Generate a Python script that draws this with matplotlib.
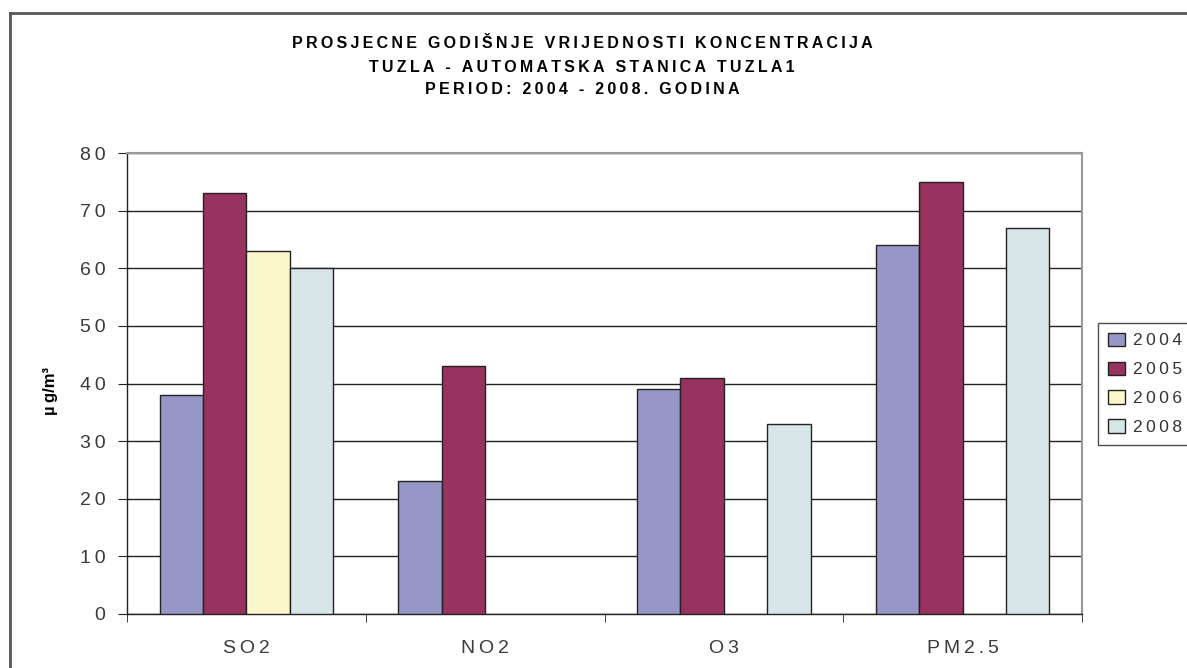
import numpy as np
import matplotlib
matplotlib.use("Agg")
import matplotlib.pyplot as plt
from matplotlib.lines import Line2D

categories = ["SO2", "NO2", "O3", "PM2.5"]
years = ["2004", "2005", "2006", "2008"]
v2004 = [38, 23, 39, 64]
v2005 = [73, 43, 41, 75]
v2006 = [63, np.nan, np.nan, np.nan]
v2008 = [60, np.nan, 33, 67]
series = [v2004, v2005, v2006, v2008]
colors = ["#9797C7", "#98335F", "#FBF6CB", "#D7E5E9"]
yticks = [0, 10, 20, 30, 40, 50, 60, 70, 80]
title_lines = ["PROSJECNE GODIŠNJE VRIJEDNOSTI KONCENTRACIJA",
               "TUZLA - AUTOMATSKA STANICA TUZLA1",
               "PERIOD: 2004 - 2008. GODINA"]

plt.rcParams["font.family"] = ["Liberation Sans", "DejaVu Sans"]

TS = "\u2009"


def spaced(s):
    return TS.join(s)


W, H = 1187, 668
fig = plt.figure(figsize=(W / 100, H / 100), dpi=100)
fig.patch.set_facecolor("white")


def fx(px):
    return px / W


def fy(py):
    return 1 - py / H


ax = fig.add_axes([fx(127), fy(614), fx(1082) - fx(127), fy(153) - fy(614)])

n = len(categories)
x = np.arange(n)
w = 1 / 5.5
for i, (vals, c, yr) in enumerate(zip(series, colors, years)):
    ax.bar(x + (i - 1.5) * w, vals, width=w, color=c, edgecolor="#222222",
           linewidth=1.0, label=spaced(yr), zorder=3)

ax.set_xlim(-0.5, n - 0.5)
ax.set_ylim(0, 80)
ax.set_yticks(yticks)
ax.set_yticklabels([spaced(str(t)) for t in yticks], fontsize=14, color="#3a3a3a")
ax.set_xticks(x)
ax.set_xticklabels([spaced(c) for c in categories], fontsize=14, color="#3a3a3a")
ax.tick_params(axis="x", length=0, pad=19)
ax.set_xticks(np.arange(n + 1) - 0.5, minor=True)
ax.tick_params(axis="x", which="minor", length=6, direction="out", color="#222222")
ax.tick_params(axis="y", length=6.5, direction="out", color="#222222", pad=9)

ax.set_axisbelow(True)
ax.yaxis.grid(True, color="#222222", linewidth=1.0)
for s in ["left", "bottom"]:
    ax.spines[s].set_color("#222222")
    ax.spines[s].set_linewidth(1.0)
for s in ["top", "right"]:
    ax.spines[s].set_color("#9a9a9a")
    ax.spines[s].set_linewidth(1.5)

fig.text(fx(50), fy(391), "\u00b5" + TS + "g/m\u00b3", rotation=90, ha="center",
         va="center", fontsize=12, fontweight="bold")

for line, yy in zip(title_lines, [44, 67, 90]):
    fig.text(fx(582), fy(yy), spaced(line), ha="center", va="center",
             fontsize=11.5, fontweight="bold", color="black")

leg = fig.legend(loc="upper left", bbox_to_anchor=(fx(1098), fy(323)),
                 prop={"size": 12.5}, frameon=True, fancybox=False,
                 handlelength=1.0, handleheight=0.85, handletextpad=0.45,
                 borderpad=0.55, labelspacing=0.75, borderaxespad=0)
leg.get_frame().set_edgecolor("#222222")
leg.get_frame().set_linewidth(1.0)
for t in leg.get_texts():
    t.set_color("#333333")

# outer chart border (top and left visible)
fig.add_artist(Line2D([fx(10), fx(10)], [fy(13), 0], transform=fig.transFigure,
                      color="#555555", linewidth=2))
fig.add_artist(Line2D([fx(10), 1], [fy(13), fy(13)], transform=fig.transFigure,
                      color="#555555", linewidth=2))

fig.savefig("out.png", dpi=100)
